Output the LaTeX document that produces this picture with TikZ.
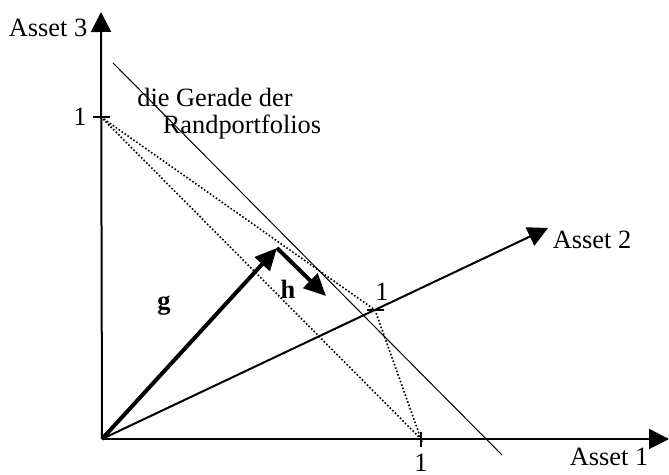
\documentclass[tikz,border=0pt]{standalone}
\usepackage{fontspec}
\setmainfont{Liberation Serif}
\usetikzlibrary{arrows.meta}

\begin{document}
\begin{tikzpicture}[x=0.5pt, y=-0.5pt,
  axis/.style={line width=1pt, -{Triangle[length=10pt,width=10pt]}},
  vec/.style={line width=2pt, -{Triangle[length=11pt,width=10pt]}},
  rand/.style={densely dotted, line width=0.8pt},
  tick/.style={line width=1pt},
  lbl/.style={font=\fontsize{13.2}{16}\selectfont, inner sep=0pt}]
  \useasboundingbox (0,0) rectangle (669,475);

  % axes
  \coordinate (O) at (102,439);
  \coordinate (E1) at (669,439);
  \coordinate (E2) at (548,228);
  \coordinate (E3) at (101,12);
  \draw[axis] (O) -- (E1);
  \draw[axis] (O) -- (E2);
  \draw[axis] (O) -- (E3);
  \node[lbl] (a1) at (609,457) {Asset 1};
  \node[lbl] (a2) at (592,240) {Asset 2};
  \node[lbl] (a3) at (48,28) {Asset 3};

  % unit points
  \coordinate (P1) at (421,439);
  \coordinate (P2) at (375,310);
  \coordinate (P3) at (101,117);
  \draw[tick] (421,432) -- (421,447);
  \draw[tick] (367,310) -- (384,310);
  \draw[tick] (93,117) -- (110,117);
  \node[lbl] (u1) at (421,463) {1};
  \node[lbl] (u2) at (382,292) {1};
  \node[lbl] (u3) at (80,117) {1};

  % triangle of portfolios
  \draw[rand] (P3) -- (P2) -- (P1) -- cycle;

  % line of the boundary portfolios
  \coordinate (G1) at (113,63);
  \coordinate (G2) at (502,455);
  \draw[line width=0.5pt] (G1) -- (G2);
  \node[lbl] (ga) at (215,97) {die Gerade der};
  \node[lbl] (gb) at (242,127) {Randportfolios};

  % vectors g and h
  \coordinate (G) at (277,248);
  \coordinate (H) at (326,296);
  \draw[vec] (O) -- (G);
  \draw[vec] (G) -- (H);
  \node[lbl, font=\fontsize{13.2}{16}\selectfont\bfseries] (g) at (164,306) {g};
  \node[lbl, font=\fontsize{13.2}{16}\selectfont\bfseries] (h) at (288,289) {h};
\end{tikzpicture}
\end{document}
